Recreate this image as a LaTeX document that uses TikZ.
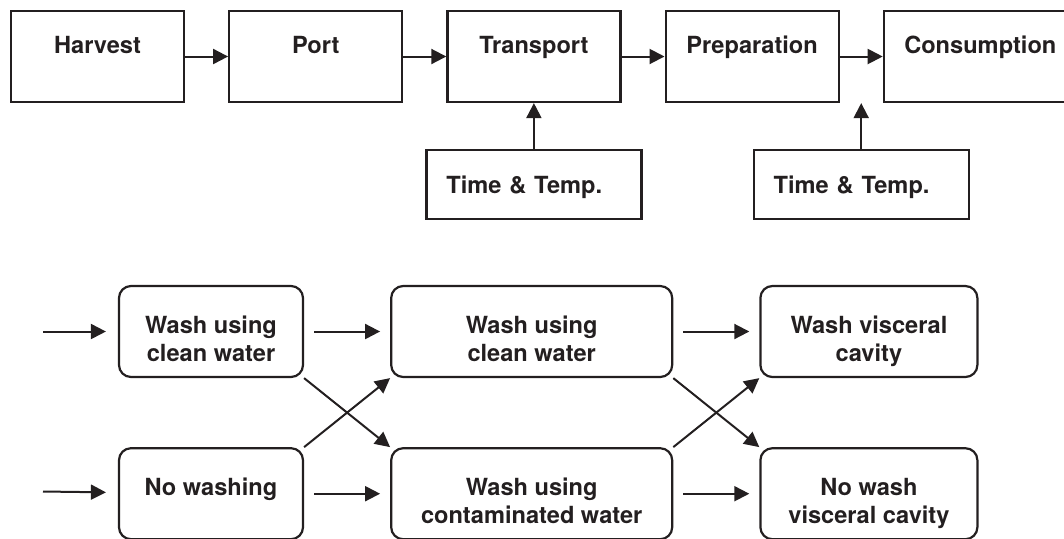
\documentclass[tikz,border=0pt]{standalone}
\usepackage{fontspec}
\setmainfont{TeX Gyre Heros}
\usetikzlibrary{arrows.meta, calc, positioning}

\definecolor{ink}{RGB}{35,31,32}

\begin{document}
\begin{tikzpicture}[x=0.5pt, y=-0.5pt,
   node distance = 21.5pt,
            font = \fontsize{11.8pt}{14pt}\selectfont\bfseries,
     stage/.style = {draw=ink, line width=1.1pt, text=ink,
                     minimum width=86.5pt, minimum height=45.5pt,
                     inner ysep=0pt, text height=21pt, text depth=24.5pt},
    factor/.style = {draw=ink, line width=1.1pt, text=ink,
                     minimum height=34.5pt, text width=87.5pt,
                     inner xsep=10pt, inner ysep=0pt, align=left,
                     text height=21.5pt, text depth=13pt},
      wash/.style = {draw=ink, line width=1.1pt, rounded corners=6pt,
                     text=ink, minimum height=45.5pt, inner ysep=0pt,
                     align=center, text height=23.5pt, text depth=22pt},
       two/.style = {text height=37.5pt, text depth=8pt},
      link/.style = {draw=ink, line width=1pt,
                     -{Triangle[length=7.5pt,width=7.5pt]}}
                    ]
  \useasboundingbox (0,0) rectangle (1064,538);
  \clip (0,0) rectangle (1064,538);
  % supply chain
  \node (harv) [stage] at (97.5,56.5) {Harvest};
  \node (port) [stage,right=of harv] {Port};
  \node (trans) [stage,right=of port] {Transport};
  \node (prep) [stage,right=of trans] {Preparation};
  \node (cons) [stage,right=of prep,minimum width=96.5pt] {Consumption};
  \node (tt1) [factor,below=23pt of trans] {Time \& Temp.};
  \coordinate (gap) at ($(prep.south east)!0.5!(cons.south west)$);
  \node (tt2) [factor,below=23pt of gap] {Time \& Temp.};
  \foreach \a/\b in {harv/port, port/trans, trans/prep, prep/cons}
    \draw [link] (\a) -- (\b);
  \draw [link] (tt1) -- (trans);
  \draw [link] (tt2) -- (gap);
  % washing options
  \node (clean1) [wash,two,minimum width=92pt] at (211,331.5)
        {Wash using\\clean water};
  \node (nowash) [wash,minimum width=92pt,below=34.5pt of clean1]
        {No washing};
  \node (clean2) [wash,two,minimum width=140.5pt,right=43pt of clean1]
        {Wash using\\clean water};
  \node (dirty) [wash,two,minimum width=140.5pt,right=43pt of nowash]
        {Wash using\\contaminated water};
  \node (cavity) [wash,two,minimum width=108.5pt,right=43pt of clean2]
        {Wash visceral\\cavity};
  \node (nocav) [wash,two,minimum width=108.5pt,right=43pt of dirty]
        {No wash\\visceral cavity};
  \coordinate (in1) at (43,331.5);
  \coordinate (in2) at (43,491.5);
  \draw [link,shorten >=6pt] (in1) -- (clean1);
  \draw [link,shorten >=6pt] (in2) -- (nowash);
  \foreach \a/\b in {clean1/clean2, nowash/dirty, clean2/cavity, dirty/nocav}
    \draw [link,shorten <=5pt,shorten >=5pt] (\a) -- (\b);
  \foreach \a/\b in {clean1/dirty, clean2/nocav}
    \draw [link] (\a.south east) -- (\b.north west);
  \foreach \a/\b in {nowash/clean2, dirty/cavity}
    \draw [link] (\a.north east) -- (\b.south west);
\end{tikzpicture}
\end{document}
